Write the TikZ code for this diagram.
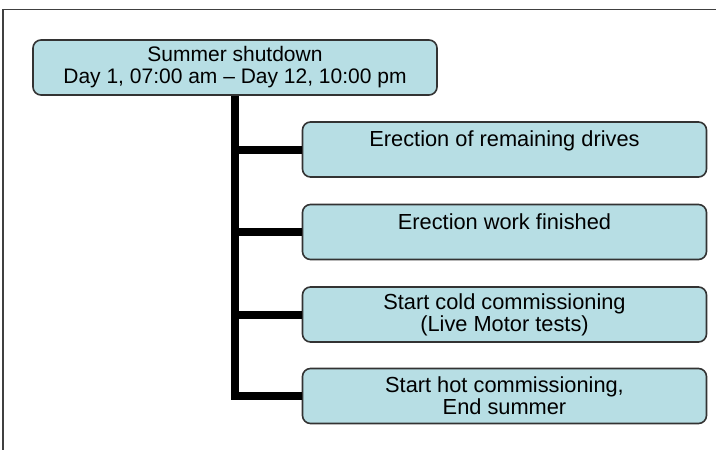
\documentclass[tikz,border=0pt]{standalone}
\usepackage{fontspec}
\setmainfont{Liberation Sans}
\usetikzlibrary{positioning}
\definecolor{boxfill}{HTML}{B7DEE4}
\definecolor{boxline}{HTML}{333333}

\begin{document}
\begin{tikzpicture}[
        x=1pt,
        y=-1pt,
        every node/.style={font=\fontsize{21}{22}\selectfont},
        stepbox/.style={draw=boxline, fill=boxfill, line width=1.6pt, rounded corners=8pt,
            inner sep=0pt, minimum width=404pt, minimum height=55pt, align=center},
        stepfont/.style={font=\fontsize{21.8}{22}\selectfont},
        oneline/.style={text height=24.5pt, text depth=30.5pt},
        trunk/.style={line width=8pt, black}
    ]
    \useasboundingbox (0,0) rectangle (716,450);
    \draw[line width=1.8pt, black!75] (3,450) -- (3,9.5) -- (716,9.5);

    \node[stepbox] (top) at (235,67.5) {Summer shutdown\\Day 1, 07:00 am -- Day 12, 10:00 pm};

    \node[stepbox, stepfont, oneline] (s1) at (504.5,149.5) {Erection of remaining drives};
    \node[stepbox, stepfont, oneline] (s2) at (504.5,232) {Erection work finished};
    \node[stepbox, stepfont] (s3) at (504.5,314.5) {Start cold commissioning\\(Live Motor tests)};
    \node[stepbox, stepfont] (s4) at (504.5,396) {Start hot commissioning,\\End summer};

    \draw[trunk] (top.south) |- (s4.west);
    \draw[trunk] (s1.west) -- (s1.west -| top.south);
    \draw[trunk] (s2.west) -- (s2.west -| top.south);
    \draw[trunk] (s3.west) -- (s3.west -| top.south);
\end{tikzpicture}
\end{document}
